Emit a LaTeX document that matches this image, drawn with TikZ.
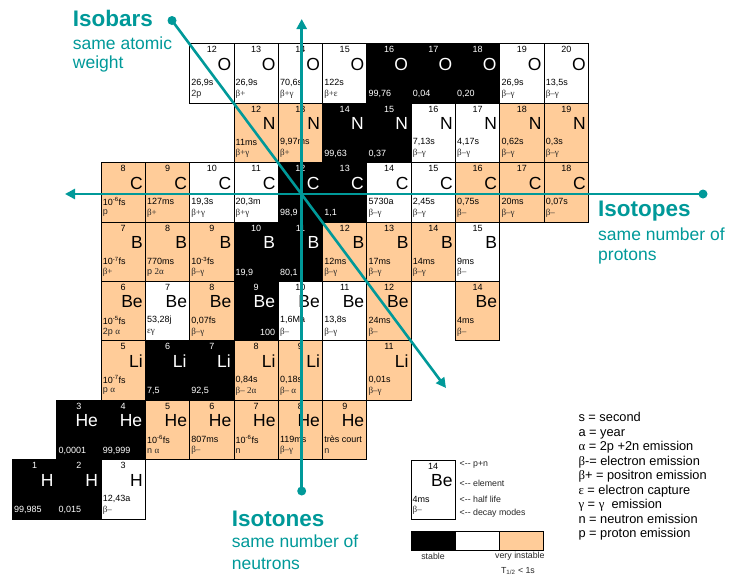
\documentclass[tikz,border=0pt]{standalone}
\usepackage{fontspec}
\setmainfont{Liberation Sans}
\newfontfamily\grk{Liberation Serif}
\usetikzlibrary{arrows.meta}
\definecolor{tealc}{RGB}{0,153,153}
\definecolor{peach}{RGB}{255,204,153}
\tikzset{
 cellbox/.style={draw=black,line width=0.9pt,minimum width=44.3pt,minimum height=59.4pt,inner sep=0pt,outer sep=0pt,anchor=north west},
 massnum/.style={font=\fontsize{9}{10}\selectfont,inner sep=0pt},
 symb/.style={font=\fontsize{17.5}{19}\selectfont,inner sep=0pt,anchor=east},
 halfl/.style={font=\fontsize{9}{10}\selectfont,inner sep=0pt,anchor=west},
 decaym/.style={font=\fontsize{9}{10}\selectfont,inner sep=0pt,anchor=west,text=black!85},
 abund/.style={font=\fontsize{9}{10}\selectfont,inner sep=0pt,anchor=west,text=white},
 tline/.style={draw=tealc,line width=2.6pt},
 tip/.style={-{Triangle[length=10pt,width=10pt]}},
 ttl/.style={font=\bfseries\fontsize{22.5}{24}\selectfont,text=tealc,inner sep=0pt,anchor=base west},
 sub/.style={font=\fontsize{17.5}{19}\selectfont,text=tealc,inner sep=0pt,anchor=base west},
 keylab/.style={font=\fontsize{8.8}{10}\selectfont,inner sep=0pt,anchor=west,text=black!85},
 legtxt/.style={font=\fontsize{12.8}{14}\selectfont,inner sep=0pt,anchor=base west},
 barbox/.style={draw=black,line width=0.9pt,minimum width=44pt,minimum height=19pt,inner sep=0pt,outer sep=0pt,anchor=north west}
}
\newcommand\cellat[8]{%
 \node[cellbox,fill=#4] (#1) at (#2,#3) {};
 \node[massnum] (#1a) at ([yshift=-6pt]#1.north) {#5};
 \node[symb] (#1s) at ([xshift=-2.5pt,yshift=-20.5pt]#1.north east) {#6};
 \node[halfl] (#1h) at ([xshift=1.5pt,yshift=-39pt]#1.north west) {#7};
 \node[decaym] (#1d) at ([xshift=1.5pt,yshift=-50.5pt]#1.north west) {#8};
}
\newcommand\nuc[8]{%
 \pgfmathsetmacro\nucx{12.5+#2*44.3}%
 \pgfmathsetmacro\nucy{519-#3*59.4}%
 \cellat{#1}{\nucx}{\nucy}{#4}{#5}{#6}{#7}{#8}%
}
\newcommand\snuc[6]{%
 \pgfmathsetmacro\nucx{12.5+#2*44.3}%
 \pgfmathsetmacro\nucy{519-#3*59.4}%
 \node[cellbox,fill=black] (#1) at (\nucx,\nucy) {};
 \node[massnum,text=white] (#1a) at ([yshift=-6pt]#1.north) {#4};
 \node[symb,text=white] (#1s) at ([xshift=-3pt,yshift=-20.5pt]#1.north east) {#5};
 \node[abund] (#1b) at ([xshift=1.5pt,yshift=-50.5pt]#1.north west) {#6};
}
\newcommand\gk[1]{{\grk #1}}
\begin{document}
\begin{tikzpicture}[x=1pt,y=-1pt]
\useasboundingbox (0,0) rectangle (731,576);
% Z=8 oxygen
\nuc{O12}{4}{8}{white}{12}{O}{26,9s}{2p}
\nuc{O13}{5}{8}{white}{13}{O}{26,9s}{\gk{β+}}
\nuc{O14}{6}{8}{white}{14}{O}{70,6s}{\gk{β+γ}}
\nuc{O15}{7}{8}{white}{15}{O}{122s}{\gk{β+ε}}
\snuc{O16}{8}{8}{16}{O}{99,76}
\snuc{O17}{9}{8}{17}{O}{0,04}
\snuc{O18}{10}{8}{18}{O}{0,20}
\nuc{O19}{11}{8}{white}{19}{O}{26,9s}{\gk{β–γ}}
\nuc{O20}{12}{8}{white}{20}{O}{13,5s}{\gk{β–γ}}
% Z=7 nitrogen
\nuc{N12}{5}{7}{peach}{12}{N}{11ms}{\gk{β+γ}}
\nuc{N13}{6}{7}{peach}{13}{N}{9,97ms}{\gk{β+}}
\snuc{N14}{7}{7}{14}{N}{99,63}
\snuc{N15}{8}{7}{15}{N}{0,37}
\nuc{N16}{9}{7}{white}{16}{N}{7,13s}{\gk{β–γ}}
\nuc{N17}{10}{7}{white}{17}{N}{4,17s}{\gk{β–γ}}
\nuc{N18}{11}{7}{peach}{18}{N}{0,62s}{\gk{β–γ}}
\nuc{N19}{12}{7}{peach}{19}{N}{0,3s}{\gk{β–γ}}
% Z=6 carbon
\nuc{C8}{2}{6}{peach}{8}{C}{10\textsuperscript{-6}fs}{p}
\nuc{C9}{3}{6}{peach}{9}{C}{127ms}{\gk{β+}}
\nuc{C10}{4}{6}{white}{10}{C}{19,3s}{\gk{β+γ}}
\nuc{C11}{5}{6}{white}{11}{C}{20,3m}{\gk{β+γ}}
\snuc{C12}{6}{6}{12}{C}{98,9}
\snuc{C13}{7}{6}{13}{C}{1,1}
\nuc{C14}{8}{6}{white}{14}{C}{5730a}{\gk{β–γ}}
\nuc{C15}{9}{6}{white}{15}{C}{2,45s}{\gk{β–γ}}
\nuc{C16}{10}{6}{peach}{16}{C}{0,75s}{\gk{β–}}
\nuc{C17}{11}{6}{peach}{17}{C}{20ms}{\gk{β–γ}}
\nuc{C18}{12}{6}{peach}{18}{C}{0,07s}{\gk{β–}}
% Z=5 boron
\nuc{B7}{2}{5}{peach}{7}{B}{10\textsuperscript{-7}fs}{\gk{β+}}
\nuc{B8}{3}{5}{peach}{8}{B}{770ms}{p \gk{2α}}
\nuc{B9}{4}{5}{peach}{9}{B}{10\textsuperscript{-3}fs}{\gk{β–γ}}
\snuc{B10}{5}{5}{10}{B}{19,9}
\snuc{B11}{6}{5}{11}{B}{80,1}
\nuc{B12}{7}{5}{peach}{12}{B}{12ms}{\gk{β–γ}}
\nuc{B13}{8}{5}{peach}{13}{B}{17ms}{\gk{β–γ}}
\nuc{B14}{9}{5}{peach}{14}{B}{14ms}{\gk{β–γ}}
\nuc{B15}{10}{5}{white}{15}{B}{9ms}{\gk{β–}}
% Z=4 beryllium
\nuc{Be6}{2}{4}{peach}{6}{Be}{10\textsuperscript{-5}fs}{2p \gk{α}}
\nuc{Be7}{3}{4}{white}{7}{Be}{53,28j}{\gk{εγ}}
\nuc{Be8}{4}{4}{peach}{8}{Be}{0,07fs}{\gk{β–γ}}
\snuc{Be9}{5}{4}{9}{Be}{}
\node[abund,anchor=east] (Be9c) at ([xshift=-3pt,yshift=-50.5pt]Be9.north east) {100};
\nuc{Be10}{6}{4}{white}{10}{Be}{1,6Ma}{\gk{β–}}
\nuc{Be11}{7}{4}{white}{11}{Be}{13,8s}{\gk{β–γ}}
\nuc{Be12}{8}{4}{peach}{12}{Be}{24ms}{\gk{β–}}
\nuc{Be14}{10}{4}{peach}{14}{Be}{4ms}{\gk{β–}}
% Z=3 lithium
\nuc{Li5}{2}{3}{peach}{5}{Li}{10\textsuperscript{-7}fs}{p \gk{α}}
\snuc{Li6}{3}{3}{6}{Li}{7,5}
\snuc{Li7}{4}{3}{7}{Li}{92,5}
\nuc{Li8}{5}{3}{peach}{8}{Li}{0,84s}{\gk{β– 2α}}
\nuc{Li9}{6}{3}{peach}{9}{Li}{0,18s}{\gk{β– α}}
\node[cellbox,fill=white] (Li10) at (12.5+7*44.3,519-3*59.4) {};
\nuc{Li11}{8}{3}{peach}{11}{Li}{0,01s}{\gk{β–γ}}
% Z=2 helium
\snuc{He3}{1}{2}{3}{He}{0,0001}
\snuc{He4}{2}{2}{4}{He}{99,999}
\nuc{He5}{3}{2}{peach}{5}{He}{10\textsuperscript{-6}fs}{n \gk{α}}
\nuc{He6}{4}{2}{peach}{6}{He}{807ms}{\gk{β–}}
\nuc{He7}{5}{2}{peach}{7}{He}{10\textsuperscript{-6}fs}{n}
\nuc{He8}{6}{2}{peach}{8}{He}{119ms}{\gk{β–γ}}
\nuc{He9}{7}{2}{peach}{9}{He}{très court}{n}
% Z=1 hydrogen
\snuc{H1}{0}{1}{1}{H}{99,985}
\snuc{H2}{1}{1}{2}{H}{0,015}
\nuc{H3}{2}{1}{white}{3}{H}{12,43a}{\gk{β–}}
% teal lines
\coordinate (isobarDot) at (172,20.5);
\coordinate (isobarTip) at (446,388);
\coordinate (isotoneDot) at (301.7,491);
\coordinate (isotoneTip) at (301.7,19);
\coordinate (isotopeDot) at (703,194);
\coordinate (isotopeTip) at (65,194);
\draw[tline,tip] (isobarDot) -- (isobarTip);
\draw[tline,tip] (isotoneDot) -- (isotoneTip);
\draw[tline,tip] (isotopeDot) -- (isotopeTip);
\fill[tealc] (isobarDot) circle (4.5pt);
\fill[tealc] (isotoneDot) circle (4.5pt);
\fill[tealc] (isotopeDot) circle (4.5pt);
% titles
\node[ttl] (isobarT) at (72.7,26) {Isobars};
\node[sub] (isobarS1) at (72.7,49.3) {same atomic};
\node[sub] (isobarS2) at (72.7,68.5) {weight};
\node[ttl] (isotopeT) at (598,216) {Isotopes};
\node[sub] (isotopeS1) at (598,240) {same number of};
\node[sub] (isotopeS2) at (598,260) {protons};
\node[ttl] (isotoneT) at (231.7,526) {Isotones};
\node[sub] (isotoneS1) at (231.7,547.3) {same number of};
\node[sub] (isotoneS2) at (231.7,569.3) {neutrons};
% key cell
\cellat{key}{411}{460}{white}{14}{Be}{4ms}{\gk{β–}}
\node[keylab] (keyA) at (459.5,465) {<-{}- p+n};
\node[keylab] (keyB) at (459.5,483.3) {<-{}- element};
\node[keylab] (keyC) at (459.5,499) {<-{}- half life};
\node[keylab] (keyD) at (459.5,513.3) {<-{}- decay modes};
% colour bar
\node[barbox,fill=black] (barStable) at (411,531) {};
\node[barbox,fill=white] (barMid) at (455,531) {};
\node[barbox,fill=peach] (barInst) at (499,531) {};
\node[keylab,anchor=center] (stableL) at (433,556.7) {stable};
\node[keylab] (instL) at (495,556.7) {very instable};
\node[keylab,anchor=center] (tL) at (518,571) {T\textsubscript{1/2} < 1s};
% right legend
\node[legtxt] (l1) at (578.3,421.5) {s = second};
\node[legtxt] (l2) at (578.3,436) {a = year};
\node[legtxt] (l3) at (578.3,450.5) {\gk{α} = 2p +2n emission};
\node[legtxt] (l4) at (578.3,465) {\gk{β}-= electron emission};
\node[legtxt] (l5) at (578.3,479.5) {\gk{β}+ = positron emission};
\node[legtxt] (l6) at (578.3,494) {\gk{ε} = electron capture};
\node[legtxt] (l7) at (578.3,508.5) {\gk{γ} = \gk{γ}\ \ emission};
\node[legtxt] (l8) at (578.3,523) {n = neutron emission};
\node[legtxt] (l9) at (578.3,537.5) {p = proton emission};
\end{tikzpicture}
\end{document}
